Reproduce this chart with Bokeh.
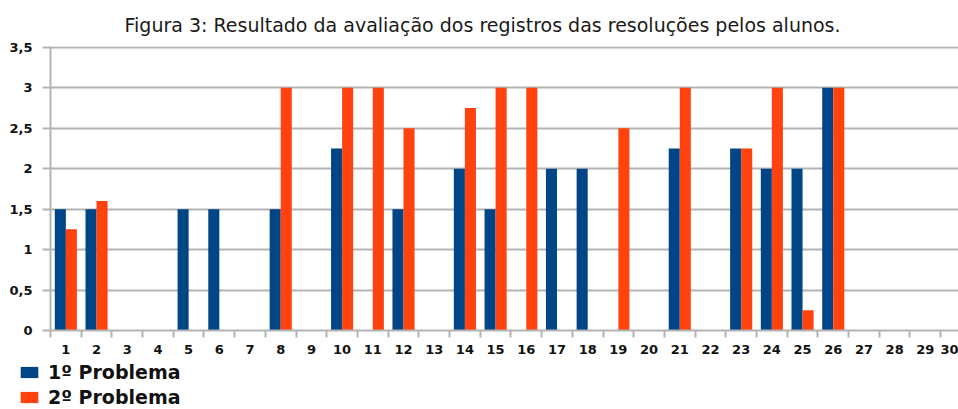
from bokeh.plotting import figure
from bokeh.models import FixedTicker, Legend, LegendItem, Range1d, ColumnDataSource
from bokeh.transform import dodge
from bokeh.embed import file_html
from bokeh.resources import INLINE

title_text = "Figura 3: Resultado da avaliação dos registros das resoluções pelos alunos."
categories = list(range(1, 31))
problema1 = [1.5, 1.5, 0, 0, 1.5, 1.5, 0, 1.5, 0, 2.25, 0, 1.5, 0, 2, 1.5,
             0, 2, 2, 0, 0, 2.25, 0, 2.25, 2, 2, 3, 0, 0, 0, 0]
problema2 = [1.25, 1.6, 0, 0, 0, 0, 0, 3, 0, 3, 3, 2.5, 0, 2.75, 3,
             3, 0, 0, 2.5, 0, 3, 0, 2.25, 3, 0.25, 3, 0, 0, 0, 0]
series_names = ["1º Problema", "2º Problema"]
y_ticks = [0, 0.5, 1, 1.5, 2, 2.5, 3, 3.5]
y_tick_labels = ["0", "0,5", "1", "1,5", "2", "2,5", "3", "3,5"]

BLUE = "#004586"
ORANGE = "#ff420e"
GRID = "#b3b3b3"

src = ColumnDataSource(dict(x=categories, p1=problema1, p2=problema2))

p = figure(width=958, height=362, output_backend="svg", toolbar_location=None,
           x_range=Range1d(0.5, 30.08), y_range=Range1d(0, 3.51),
           min_border_left=50, min_border_right=0, min_border_top=45,
           min_border_bottom=32)
p.outline_line_color = None

p.title.text = title_text
p.title.align = "left"
p.title.offset = 74
p.title.text_font = "DejaVu Sans"
p.title.text_font_size = "19px"
p.title.text_font_style = "normal"
p.title.text_color = "#1a1a1a"
p.title.standoff = 22

bw = 0.36
r1 = p.vbar(x=dodge("x", -bw / 2, range=p.x_range), top="p1", width=bw, bottom=0,
            source=src, fill_color=BLUE, line_color=None)
r2 = p.vbar(x=dodge("x", bw / 2, range=p.x_range), top="p2", width=bw, bottom=0,
            source=src, fill_color=ORANGE, line_color=None)

# x axis
p.xaxis.ticker = FixedTicker(ticks=categories, minor_ticks=[c - 0.5 for c in categories])
p.xaxis.major_tick_out = 0
p.xaxis.major_tick_in = 0
p.xaxis.minor_tick_out = 7
p.xaxis.minor_tick_in = 0
p.xaxis.minor_tick_line_color = GRID
p.xaxis.minor_tick_line_width = 2
p.xaxis.axis_line_color = GRID
p.xaxis.axis_line_width = 2
p.xaxis.major_label_standoff = 7
p.xaxis.major_label_text_font = "DejaVu Sans"
p.xaxis.major_label_text_font_style = "bold"
p.xaxis.major_label_text_font_size = "13px"
p.xaxis.major_label_text_color = "#111111"

# y axis
p.yaxis.ticker = FixedTicker(ticks=y_ticks)
p.yaxis.major_label_overrides = {t: l for t, l in zip(y_ticks, y_tick_labels)}
p.yaxis.major_tick_out = 8
p.yaxis.major_tick_in = 0
p.yaxis.minor_tick_out = 0
p.yaxis.minor_tick_in = 0
p.yaxis.major_tick_line_color = GRID
p.yaxis.major_tick_line_width = 2
p.yaxis.axis_line_color = GRID
p.yaxis.axis_line_width = 2
p.yaxis.major_label_standoff = 10
p.yaxis.major_label_text_font = "DejaVu Sans"
p.yaxis.major_label_text_font_style = "bold"
p.yaxis.major_label_text_font_size = "13px"
p.yaxis.major_label_text_color = "#111111"

p.xgrid.visible = False
p.ygrid.ticker = FixedTicker(ticks=y_ticks)
p.ygrid.grid_line_color = GRID
p.ygrid.grid_line_width = 2

# legend strip below the chart (separate root, no frame alignment)
pl = figure(width=958, height=47, output_backend="svg", toolbar_location=None,
            x_range=Range1d(0, 1), y_range=Range1d(0, 1),
            x_axis_location=None, y_axis_location=None,
            min_border_left=0, min_border_right=0, min_border_top=0, min_border_bottom=0)
pl.grid.visible = False
pl.outline_line_color = None
l1 = pl.vbar(x=[0.5], top=[0], bottom=0, width=0.01, fill_color=BLUE, line_color=None)
l2 = pl.vbar(x=[0.5], top=[0], bottom=0, width=0.01, fill_color=ORANGE, line_color=None)

legend = Legend(items=[LegendItem(label=series_names[0], renderers=[l1]),
                       LegendItem(label=series_names[1], renderers=[l2])],
                location=(18, 1), orientation="vertical")
legend.border_line_color = None
legend.background_fill_alpha = 0
legend.label_text_font = "DejaVu Sans"
legend.label_text_font_style = "bold"
legend.label_text_font_size = "19px"
legend.label_text_color = "#111111"
legend.glyph_width = 22
legend.glyph_height = 14
legend.label_height = 20
legend.label_standoff = 8
legend.spacing = 3
legend.padding = 0
legend.margin = 0
pl.add_layout(legend, "center")

open("out.html", "w").write(file_html([p, pl], INLINE))
